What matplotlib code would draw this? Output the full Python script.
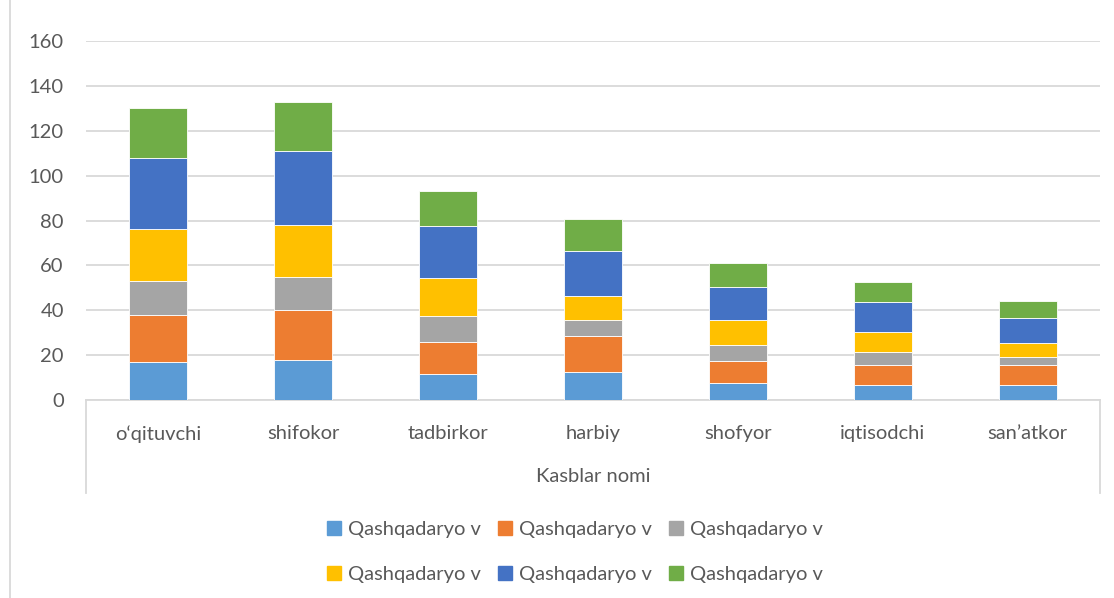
import numpy as np
import matplotlib.pyplot as plt
from matplotlib.lines import Line2D
from matplotlib.patches import Patch

# Data
categories = ["o\u2018qituvchi", "shifokor", "tadbirkor", "harbiy", "shofyor", "iqtisodchi", "san\u2019atkor"]
series_names = ["Qashqadaryo v"] * 6
s1 = [17, 18, 11.5, 12.5, 7.5, 6.5, 6.5]
s2 = [21, 22, 14.5, 16, 10, 9, 9]
s3 = [15, 15, 11.5, 7, 7, 6, 3.5]
s4 = [23, 23, 17, 11, 11, 9, 6.5]
s5 = [32, 33, 23, 20, 15, 13, 11]
s6 = [22, 22, 15.5, 14, 10.5, 9, 7.5]
y_ticks = [0, 20, 40, 60, 80, 100, 120, 140, 160]

colors = ["#5B9BD5", "#ED7D31", "#A5A5A5", "#FFC000", "#4472C4", "#70AD47"]
text_color = "#595959"
grid_color = "#D9D9D9"

plt.rcParams['font.family'] = ['Lato', 'DejaVu Sans']
fs = 14.5

fig = plt.figure(figsize=(11.14, 5.98), dpi=100)
W, H = 1114, 598
ax = fig.add_axes([86 / W, 1 - 400 / H, (1100 - 86) / W, (400 - 41) / H])

x = np.arange(len(categories))
bottom = np.zeros(len(categories))
for vals, c, name in zip([s1, s2, s3, s4, s5, s6], colors, series_names):
    ax.bar(x, vals, width=0.4, bottom=bottom, color=c, edgecolor="white",
           linewidth=0.6, zorder=3, label=name)
    bottom += np.array(vals)

ax.set_xlim(-0.5, len(categories) - 0.5)
ax.set_ylim(0, 160)
ax.set_yticks(y_ticks)
ax.yaxis.grid(True, color=grid_color, linewidth=1.3, zorder=0)
ax.tick_params(axis="y", length=0, labelsize=fs, colors=text_color, pad=16)
ax.set_xticks(x)
ax.set_xticklabels(categories)
ax.tick_params(axis="x", length=0, labelsize=fs, colors=text_color, pad=18)
for s in ["top", "right", "left"]:
    ax.spines[s].set_visible(False)
ax.spines["bottom"].set_color(grid_color)
ax.spines["bottom"].set_linewidth(1.3)

# category box lines and outer border
for xp in [86, 1100]:
    fig.add_artist(Line2D([xp / W, xp / W], [1 - 400 / H, 1 - 493 / H],
                          color=grid_color, linewidth=1.3))
fig.add_artist(Line2D([10 / W, 10 / W], [0, 1], color=grid_color, linewidth=1.3))

fig.text(593 / W, 1 - 477 / H, "Kasblar nomi", ha="center", va="center",
         fontsize=fs, color=text_color)

# legend, row-major order
order = [0, 3, 1, 4, 2, 5]
leg_handles = [Patch(color=colors[i]) for i in order]
leg_labels = [series_names[i] for i in order]
leg = fig.legend(leg_handles, leg_labels, loc="center", ncol=3,
                 bbox_to_anchor=(575 / W, 1 - 552 / H), frameon=False,
                 fontsize=fs, handlelength=0.7, handleheight=0.7,
                 handletextpad=0.35, columnspacing=0.85, labelspacing=1.35)
for t in leg.get_texts():
    t.set_color(text_color)

fig.savefig("out.png", dpi=100)
